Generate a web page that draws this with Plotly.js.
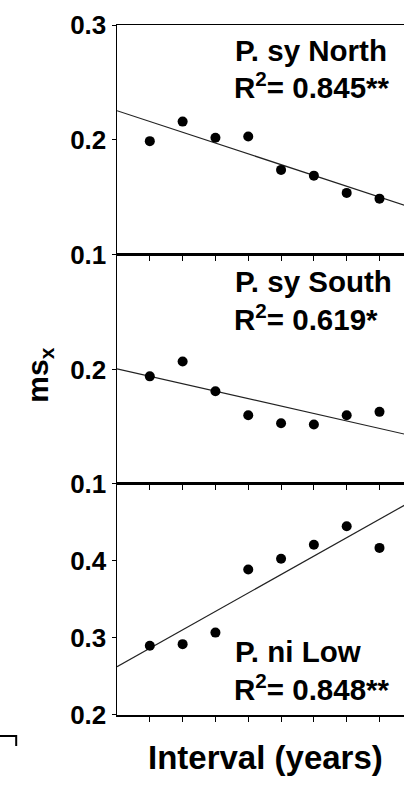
<!DOCTYPE html>
<html>
<head>
<meta charset="utf-8">
<script src="https://cdn.plot.ly/plotly-3.0.1.min.js"></script>
<style>
html,body{margin:0;padding:0;overflow:hidden;background:#fff;}
#chart{width:440px;height:787px;}
</style>
</head>
<body>
<div id="chart"></div>
<script>
// Data
const intervals = [1, 2, 3, 4, 5, 6, 7, 8];
const syNorth = [0.199, 0.216, 0.202, 0.203, 0.174, 0.169, 0.154, 0.149];
const sySouth = [0.194, 0.207, 0.181, 0.160, 0.153, 0.152, 0.160, 0.163];
const niLow   = [0.290, 0.292, 0.307, 0.389, 0.403, 0.421, 0.445, 0.417];
const panelNames = ["P. sy North", "P. sy South", "P. ni Low"];
const r2Labels = ["R<sup>2</sup>= 0.845**", "R<sup>2</sup>= 0.619*", "R<sup>2</sup>= 0.848**"];
const yRanges = [[0.1, 0.3], [0.1, 0.3], [0.2, 0.5]];
const yTicks = [[0.1, 0.2, 0.3], [0.1, 0.2], [0.2, 0.3, 0.4]];
const xRange = [0, 9.6];

function fit(x, y) {
  const n = x.length;
  const mx = x.reduce((a, b) => a + b, 0) / n;
  const my = y.reduce((a, b) => a + b, 0) / n;
  let sxy = 0, sxx = 0;
  for (let i = 0; i < n; i++) { sxy += (x[i] - mx) * (y[i] - my); sxx += (x[i] - mx) ** 2; }
  const b = sxy / sxx;
  return { a: my - b * mx, b: b };
}

const series = [syNorth, sySouth, niLow];
const traces = [];
series.forEach((ys, i) => {
  const ax = i === 0 ? '' : String(i + 1);
  const f = fit(intervals, ys);
  traces.push({
    x: xRange, y: xRange.map(v => f.a + f.b * v),
    xaxis: 'x' + ax, yaxis: 'y' + ax, mode: 'lines',
    line: { color: '#222', width: 1.2 }, hoverinfo: 'skip', showlegend: false
  });
  traces.push({
    x: intervals, y: ys, xaxis: 'x' + ax, yaxis: 'y' + ax, mode: 'markers',
    marker: { color: '#000', size: 10 }, showlegend: false, cliponaxis: false
  });
});

const domains = [[0.6667, 1], [0.3348, 0.6667], [0, 0.3348]];
const tickFont = { family: 'Liberation Sans, Arial, sans-serif', size: 26, color: '#000', weight: 'bold' };
const layout = {
  width: 440, height: 787,
  margin: { l: 117, r: 8, t: 25, b: 72 },
  paper_bgcolor: '#fff', plot_bgcolor: '#fff',
  showlegend: false,
  annotations: [],
  shapes: []
};
for (let i = 0; i < 3; i++) {
  const ax = i === 0 ? '' : String(i + 1);
  layout['xaxis' + ax] = {
    domain: [0, 1], range: xRange, anchor: 'y' + ax,
    showgrid: false, zeroline: false, showline: true, linecolor: '#000', linewidth: 1.5,
    mirror: true, ticks: 'outside', ticklen: 5, tickwidth: 1, tickcolor: '#000',
    tickvals: intervals, showticklabels: false
  };
  layout['yaxis' + ax] = {
    domain: domains[i], range: yRanges[i], anchor: 'x' + ax,
    showgrid: false, zeroline: false, showline: true, linecolor: '#000', linewidth: 1.5,
    mirror: true, ticks: 'outside', ticklen: 4, tickwidth: 1, tickcolor: '#000',
    tickvals: yTicks[i], ticktext: yTicks[i].map(v => v.toFixed(1)),
    tickfont: tickFont, ticklabelstandoff: 0
  };
}
const annFont = { family: 'Liberation Sans, Arial, sans-serif', size: 29.5, color: '#000', weight: 'bold' };
const annY = [[0.889, 0.735], [0.884, 0.727], [0.277, 0.117]];
for (let i = 0; i < 3; i++) {
  const ax = i === 0 ? '' : String(i + 1);
  layout.annotations.push({
    text: panelNames[i], xref: 'x' + ax, yref: 'y' + ax + ' domain',
    x: 3.55, y: annY[i][0], xanchor: 'left', yanchor: 'middle', showarrow: false, font: annFont
  });
  layout.annotations.push({
    text: r2Labels[i], xref: 'x' + ax, yref: 'y' + ax + ' domain',
    x: 3.5, y: annY[i][1], xanchor: 'left', yanchor: 'middle', showarrow: false, font: annFont
  });
}
layout.annotations.push({
  text: 'Interval (years)', xref: 'paper', yref: 'paper', x: 0.47, y: -0.061,
  xanchor: 'center', yanchor: 'middle', showarrow: false,
  font: { family: 'Liberation Sans, Arial, sans-serif', size: 33, color: '#000', weight: 'bold' }
});
layout.annotations.push({
  text: 'ms<sub>x</sub>', xref: 'paper', yref: 'paper', x: -0.245, y: 0.493,
  xanchor: 'center', yanchor: 'middle', showarrow: false, textangle: -90,
  font: { family: 'Liberation Sans, Arial, sans-serif', size: 30, color: '#000', weight: 'bold' }
});
layout.shapes.push({
  type: 'path', xref: 'paper', yref: 'paper',
  path: 'M -0.375 -0.0305 L -0.32 -0.0305 L -0.32 -0.045',
  line: { color: '#000', width: 2 }
});

Plotly.newPlot('chart', traces, layout, { staticPlot: true, displayModeBar: false });
</script>
</body>
</html>
